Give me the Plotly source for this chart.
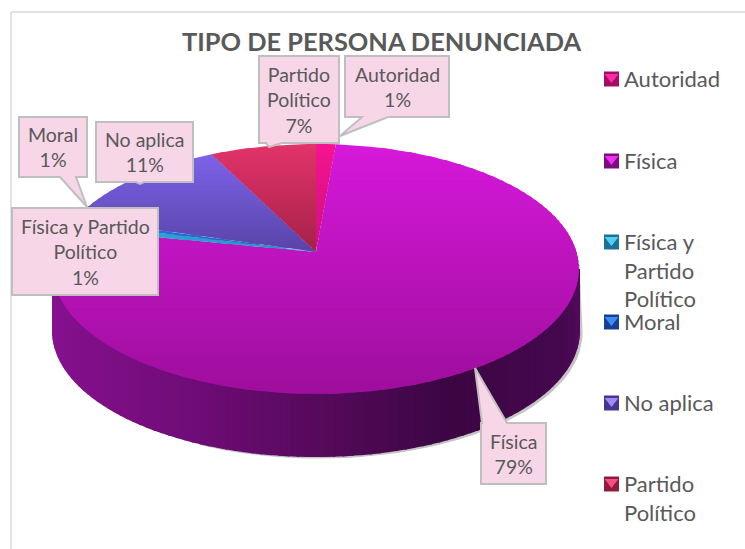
import math
import plotly.graph_objects as go

# ---- data ----
categories = ["Autoridad", "Física", "Física y Partido Político", "Moral", "No aplica", "Partido Político"]
values = [1.2, 79.0, 0.9, 0.5, 11.9, 6.5]
shown_pct = ["1%", "79%", "1%", "1%", "11%", "7%"]
title_text = "TIPO DE PERSONA DENUNCIADA"

# ---- styles ----
top_colors = ["#f5148f", "#d618da", "#2fb0e0", "#2478ec", "#7e62ea", "#e2346a"]
bottom_colors = ["#cf107c", "#9e0e9c", "#2590c0", "#1f60c0", "#5844a8", "#a52048"]
legend_dark = ["#a50d62", "#7d0c80", "#1f7096", "#173f96", "#483590", "#8e1c3e"]
legend_light = ["#ff2aa8", "#f030f0", "#50d0f5", "#3c8cf5", "#a088f5", "#f5507f"]
TEXT = "#595959"
FONT = "Lato, Carlito, Calibri, sans-serif"
BOX_FILL = "#f7d6e8"
BOX_LINE = "#bfbfbf"

# ---- layout geometry (pixels on the axes) ----
CX, CY, RX, RY, DEPTH = 316, 269, 263, 125, 62
APEX = (316, 252)
wall_stops = [(53, (0x86, 0x10, 0x8e)), (200, (0x6e, 0x0c, 0x76)), (316, (0x56, 0x0a, 0x5c)),
              (450, (0x3c, 0x06, 0x42)), (560, (0x45, 0x08, 0x4e)), (579, (0x52, 0x0a, 0x5a))]
callouts = [
    dict(outline=[(259, 56), (339, 56), (339, 143), (282, 143), (269, 147), (266, 143), (259, 143)],
         cx=299, cy=100, text="Partido<br>Político<br>7%"),
    dict(outline=[(345, 56), (449, 56), (449, 117), (388, 117), (340, 136), (362, 117), (345, 117)],
         cx=397, cy=87, text="Autoridad<br>1%"),
    dict(outline=[(19, 117), (87, 117), (87, 177), (76, 177), (87, 207), (60, 177), (19, 177)],
         cx=53, cy=147, text="Moral<br>1%"),
    dict(outline=[(96, 122), (193, 122), (193, 182), (144, 182), (140, 184), (136, 182), (96, 182)],
         cx=145, cy=152, text="No aplica<br>11%"),
    dict(outline=[(12, 208), (158, 208), (158, 295), (12, 295)],
         cx=85, cy=252, text="Física y Partido<br>Político<br>1%"),
    dict(outline=[(481, 423), (482, 423), (475, 368), (507, 423), (546, 423), (546, 484), (481, 484)],
         cx=513, cy=454, text="Física<br>79%"),
]
legend_y = [79, 161, 242, 322, 403, 484]
legend_text = ["Autoridad", "Física", "Física y<br>Partido<br>Político", "Moral", "No aplica", "Partido<br>Político"]


def hex_rgb(h):
    return tuple(int(h[k:k + 2], 16) for k in (1, 3, 5))


def mix(a, b, f):
    f = max(0.0, min(1.0, f))
    return "rgb(%d,%d,%d)" % tuple(round(a[k] + (b[k] - a[k]) * f) for k in range(3))


def rim(deg):
    r = math.radians(deg)
    return CX + RX * math.sin(r), CY - RY * math.cos(r)


def clip(poly, y0, keep_below):
    out = []
    inside = (lambda p: p[1] >= y0) if keep_below else (lambda p: p[1] <= y0)
    for k, p in enumerate(poly):
        q = poly[(k + 1) % len(poly)]
        if inside(p):
            out.append(p)
        if inside(p) != inside(q):
            f = (y0 - p[1]) / (q[1] - p[1])
            out.append((p[0] + (q[0] - p[0]) * f, y0))
    return out


def poly_trace(poly, color, width=1.2):
    xs = [p[0] for p in poly] + [poly[0][0]]
    ys = [p[1] for p in poly] + [poly[0][1]]
    return go.Scatter(x=xs, y=ys, mode="lines", fill="toself", fillcolor=color,
                      line=dict(color=color, width=width), hoverinfo="skip", showlegend=False)


fig = go.Figure()

# soft shadow under the disc, right side
front = [rim(a) for a in range(90, 271, 3)]
fig.add_trace(poly_trace([rim(a) for a in range(88, 93)] + [(x + 3, y + DEPTH + 2) for x, y in reversed(front[:40])],
                         "#c4c4c4"))


def wall_color(x):
    for (x0, c0), (x1, c1) in zip(wall_stops, wall_stops[1:]):
        if x <= x1:
            return mix(c0, c1, (x - x0) / (x1 - x0))
    return mix(wall_stops[-1][1], wall_stops[-1][1], 0)


# side wall
step = 2
for a in range(90, 270, step):
    p0, p1 = rim(a), rim(a + step)
    fig.add_trace(poly_trace([p0, p1, (p1[0], p1[1] + DEPTH), (p0[0], p0[1] + DEPTH)],
                             wall_color((p0[0] + p1[0]) / 2), width=2))

# top face, one wedge per value, angles from the values
total = sum(values)
start = 0.0
for i, v in enumerate(values):
    end = start + v / total * 360
    n = max(2, int((end - start) / 1.5))
    wedge = [APEX] + [rim(start + (end - start) * k / n) for k in range(n + 1)]
    ymin = min(p[1] for p in wedge)
    ymax = max(p[1] for p in wedge)
    y = ymin
    band = 4
    while y < ymax:
        # each band runs on under the next one, so no seams show
        part = clip(clip(wedge, y, True), y + band + 1.5, False)
        if len(part) >= 3:
            f = (y + band / 2 - ymin) / max(1, ymax - ymin)
            fig.add_trace(poly_trace(part, mix(hex_rgb(top_colors[i]), hex_rgb(bottom_colors[i]), f), width=0))
        y += band
    start = end

# legend swatches
for i, name in enumerate(categories):
    fig.add_trace(go.Scatter(x=[611.5], y=[legend_y[i]], mode="markers", hoverinfo="skip", showlegend=False,
                             marker=dict(symbol="square", size=15, color=legend_dark[i], line=dict(width=0))))
    fig.add_trace(go.Scatter(x=[611.5], y=[legend_y[i] - 2], mode="markers", hoverinfo="skip", showlegend=False,
                             marker=dict(symbol="triangle-down", size=12, color=legend_light[i], line=dict(width=0))))

shapes = [
    dict(type="line", x0=11, x1=11, y0=12, y1=549, line=dict(color="#d9d9d9", width=1.5)),
    dict(type="line", x0=11, x1=745, y0=12, y1=12, line=dict(color="#d9d9d9", width=1.5)),
]
annotations = [
    dict(x=381, y=41, text="<b>%s</b>" % title_text, showarrow=False, xanchor="center", yanchor="middle",
         font=dict(family=FONT, size=25.4, color=TEXT)),
]
for c in callouts:
    pts = c["outline"]
    path = "M" + " L".join("%d,%d" % p for p in pts) + " Z"
    shapes.append(dict(type="path", path=path, fillcolor=BOX_FILL, line=dict(color=BOX_LINE, width=2), layer="above"))
    annotations.append(dict(x=c["cx"], y=c["cy"], text=c["text"], showarrow=False, xanchor="center",
                            yanchor="middle", align="center", font=dict(family=FONT, size=19.5, color=TEXT)))

for t, y in zip(legend_text, legend_y):
    annotations.append(dict(x=622, y=y - 16, text=t, showarrow=False, xanchor="left", yanchor="top", align="left",
                            font=dict(family=FONT, size=22, color=TEXT)))

fig.update_layout(
    width=745, height=549, margin=dict(l=0, r=0, t=0, b=0), showlegend=False,
    paper_bgcolor="white", plot_bgcolor="white", shapes=shapes, annotations=annotations,
    xaxis=dict(range=[0, 745], visible=False, fixedrange=True),
    yaxis=dict(range=[549, 0], visible=False, fixedrange=True),
)
fig.write_html("out.html", config=dict(displayModeBar=False),
               post_script="document.body.style.margin='0';document.body.style.overflow='hidden';")
